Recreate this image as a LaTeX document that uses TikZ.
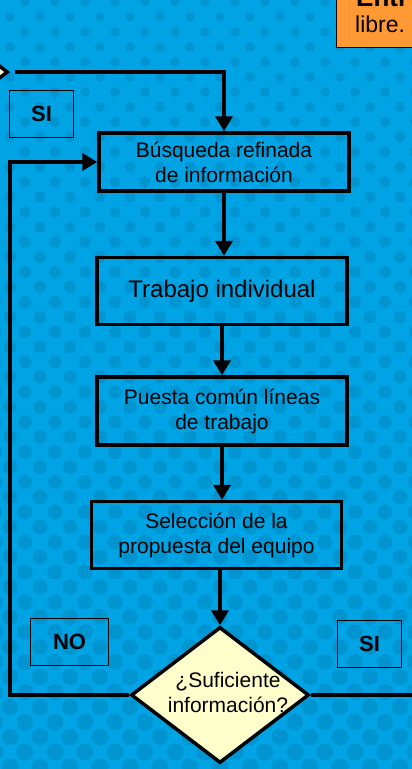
\documentclass[tikz,border=0pt]{standalone}
\usepackage{fontspec}
\setmainfont{Liberation Sans}
\usepackage{tikz}
\usetikzlibrary{positioning,shapes.geometric,arrows.meta}
\definecolor{fondo}{RGB}{0,164,228}
\definecolor{punto}{RGB}{0,148,208}
\definecolor{crema}{RGB}{255,255,204}
\definecolor{naranja}{RGB}{255,153,51}

\begin{document}
\begin{tikzpicture}[x=1pt, y=-1pt,
    caja/.style={rectangle, draw, line width=3.5pt, minimum width=250pt, align=center, font=\fontsize{21}{25}\selectfont},
    rombo/.style={diamond, draw, fill=crema, line width=3.5pt, minimum width=178pt, minimum height=136pt, inner sep=0pt},
    etiqueta/.style={rectangle, draw, line width=1.5pt, minimum width=64pt, minimum height=47pt, font=\bfseries\fontsize{22}{26}\selectfont},
    punta/.style={-{Triangle[length=15pt,width=17pt]}},
    linea/.style={line width=3.5pt},
    flecha/.style={line width=4.5pt, punta}]
    % fondo con puntos
    \useasboundingbox (0,0) rectangle (412,769);
    \clip (0,0) rectangle (412,769);
    \fill[fondo] (0,0) rectangle (412,769);
    \foreach \j in {0,...,52} {
      \foreach \i in {0,...,14} {
        \pgfmathsetmacro{\yy}{2+15*\j}
        \pgfmathsetmacro{\xx}{30*\i-5+15*mod(\j,2)}
        \pgfmathsetmacro{\rr}{4.5+4*\yy/769}
        \fill[punto] (\xx,\yy) circle (\rr);
      }
    }

    % definir los nodos
    \node (nota) [draw, fill=naranja, line width=1pt, anchor=south west, minimum width=100pt, minimum height=90pt] at (335.5,48) {};
    \node (nota1) [anchor=base west, inner sep=0pt, font=\bfseries\fontsize{26}{30}\selectfont] at (356,6) {Entr};
    \node (nota2) [anchor=base west, inner sep=0pt, font=\fontsize{23}{27}\selectfont] at (355,32) {libre.};
    \node (dec0) [rombo] at (-81,72) {};
    \node (caja1) [caja, minimum height=58pt] at (224,162) {Búsqueda refinada\\de información};
    \node (caja2) [caja, below=63pt of caja1, xshift=-2pt, minimum height=67pt, font=\fontsize{24}{28}\selectfont] {Trabajo individual};
    \node (caja3) [caja, below=49pt of caja2, minimum height=68pt] {Puesta común líneas\\de trabajo};
    \node (caja4) [caja, below=53pt of caja3, xshift=-5.5pt, minimum height=67pt] {Selección de la\\propuesta del equipo};
    \node (dec) [rombo, below=55pt of caja4, xshift=3.5pt,
      label={[align=center, xshift=8pt, yshift=3pt, font=\fontsize{21}{25}\selectfont]center:¿Suficiente\\información?}] {};
    \node (si1) [etiqueta] at (41.5,114) {SI};
    \node (no) [etiqueta, minimum width=78pt] at (69.5,642) {NO};
    \node (si2) [etiqueta] at (369.5,644) {SI};
    \coordinate (retorno) at (10,0);

    % definir las conexiones
    \draw [linea, punta, shorten <=5pt] (dec0.east) -| (caja1.north);
    \draw [flecha] (caja1.south) -- (caja1.south |- caja2.north);
    \draw [flecha] (caja2.south) -- (caja2.south |- caja3.north);
    \draw [flecha] (caja3.south) -- (caja3.south |- caja4.north);
    \draw [flecha] (caja4.south -| dec.north) -- (dec.north);
    \draw [linea, punta] (dec.west) -| (retorno |- caja1.west) -- (caja1.west);
    \draw [linea] (dec.east) -- ++(120,0) coordinate (salida);
\end{tikzpicture}
\end{document}
